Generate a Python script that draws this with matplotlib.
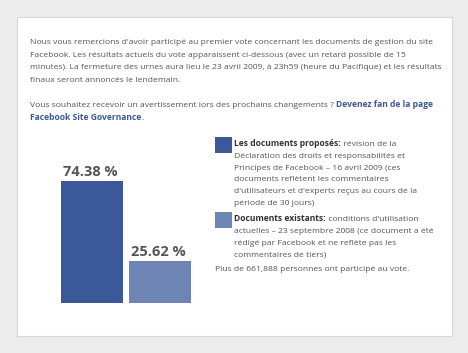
import matplotlib
matplotlib.use("Agg")
import matplotlib.pyplot as plt
from matplotlib.patches import Rectangle

plt.rcParams["font.family"] = ["Open Sans", "DejaVu Sans"]

# data
options = ["Les documents proposés", "Documents existants"]
shares = [74.38, 25.62]
bar_colors = ["#3b5998", "#6d84b4"]
value_labels = ["74.38 %", "25.62 %"]

intro_lines = [
    "Nous vous remercions d'avoir participé au premier vote concernant les documents de gestion du site",
    "Facebook. Les résultats actuels du vote apparaissent ci-dessous (avec un retard possible de 15",
    "minutes). La fermeture des urnes aura lieu le 23 avril 2009, à 23h59 (heure du Pacifique) et les résultats",
    "finaux seront annoncés le lendemain.",
]
legend_text = [
    [" révision de la",
     "Déclaration des droits et responsabilités et",
     "Principes de Facebook – 16 avril 2009 (ces",
     "documents reflètent les commentaires",
     "d'utilisateurs et d'experts reçus au cours de la",
     "période de 30 jours)"],
    [" conditions d'utilisation",
     "actuelles – 23 septembre 2008 (ce document a été",
     "rédigé par Facebook et ne reflète pas les",
     "commentaires de tiers)"],
]
total_note = "Plus de 661,888 personnes ont participé au vote."

W, H = 468, 353
fig = plt.figure(figsize=(W / 100, H / 100), dpi=100)
fig.patch.set_facecolor("#ececec")


def fx(x):
    return x / W


def fy(y):
    return 1 - y / H


# white panel
fig.patches.append(Rectangle((fx(17), fy(336)), fx(435), 319 / H, transform=fig.transFigure,
                             facecolor="white", edgecolor="#d8d8d8", lw=0.8, zorder=-5))

txt_color = "#555555"
fs = 6.1
lh = 12.6
lh_leg = 11.8

renderer = fig.canvas.get_renderer()


def width_px(t):
    return t.get_window_extent(renderer=renderer).width


for i, line in enumerate(intro_lines):
    fig.text(fx(30), fy(44 + i * lh), line, fontsize=fs, color=txt_color, va="baseline")

t = fig.text(fx(30), fy(44 + 5 * lh), "Vous souhaitez recevoir un avertissement lors des prochains changements ? ",
             fontsize=fs, color=txt_color, va="baseline")
fig.text(fx(30 + width_px(t)), fy(44 + 5 * lh), "Devenez fan de la page", fontsize=fs,
         color="#3b5998", fontweight="bold", va="baseline")
t = fig.text(fx(30), fy(44 + 6 * lh), "Facebook Site Governance", fontsize=fs,
             color="#3b5998", fontweight="bold", va="baseline")
fig.text(fx(30 + width_px(t)), fy(44 + 6 * lh), ".", fontsize=fs, color=txt_color, va="baseline")

# bars
ax = fig.add_axes([fx(55), fy(303), fx(142), 164 / H], zorder=2)
ax.patch.set_alpha(0)
ax.bar(range(len(shares)), shares, width=0.912, color=bar_colors)
for i, (v, lab) in enumerate(zip(shares, value_labels)):
    ax.text(i - 0.43, v + 1.5, lab, fontsize=10.5, fontweight="bold", color="#555555",
            ha="left", va="bottom")
ax.set_xlim(-0.544, 1.544)
ax.set_ylim(0, 100)
ax.axis("off")

# legend blocks
starts = [146, 221]
for k, (name, lines) in enumerate(zip(options, legend_text)):
    y0 = starts[k]
    fig.patches.append(Rectangle((fx(215), fy(y0 + 7)), fx(17), 16 / H, transform=fig.transFigure,
                                 facecolor=bar_colors[k], edgecolor="none"))
    t = fig.text(fx(234), fy(y0), name + ":", fontsize=fs, fontweight="bold",
                 color="#333333", va="baseline")
    fig.text(fx(234 + width_px(t)), fy(y0), lines[0], fontsize=fs, color=txt_color, va="baseline")
    for j, line in enumerate(lines[1:], start=1):
        fig.text(fx(234), fy(y0 + j * lh_leg), line, fontsize=fs, color=txt_color, va="baseline")

fig.text(fx(215), fy(271), total_note, fontsize=fs, color=txt_color, va="baseline")

fig.savefig("out.png", dpi=100, facecolor=fig.get_facecolor())
